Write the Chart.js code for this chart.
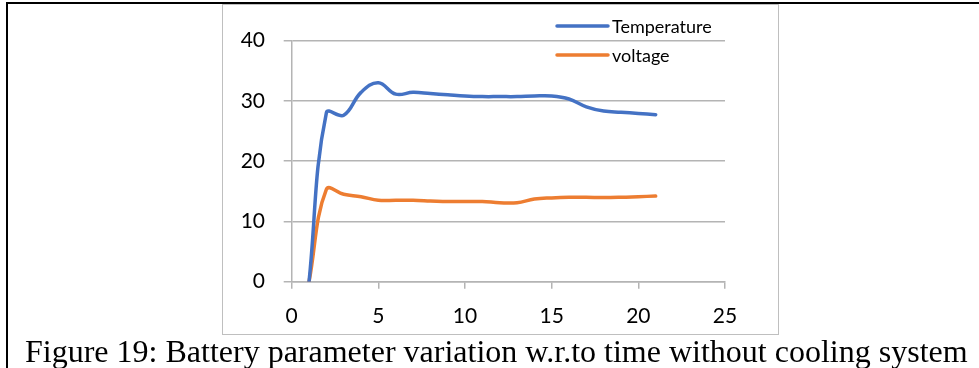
<!DOCTYPE html>
<html>
<head>
<meta charset="utf-8">
<script src="https://cdn.jsdelivr.net/npm/chart.js@4"></script>
<style>
  html, body { margin: 0; padding: 0; background: #fff; width: 979px; height: 368px; overflow: hidden; }
  #vline { position: absolute; left: 6px; top: 2px; width: 2px; height: 366px; background: #000; }
  #hline { position: absolute; left: 6px; top: 2px; width: 973px; height: 2px; background: #000; }
  #box { position: absolute; left: 222px; top: 4px; width: 557px; height: 331px; border: 1px solid #bfbfbf; box-sizing: border-box; background: #fff; }
  #caption { position: absolute; left: 25px; top: 335px; font-family: "Liberation Serif", "Times New Roman", serif; font-size: 32px; line-height: 32px; color: #000; white-space: nowrap; }
</style>
</head>
<body>
<div id="vline"></div>
<div id="hline"></div>
<div id="box"><canvas id="c" width="555" height="329"></canvas></div>
<div id="caption">Figure 19: Battery parameter variation w.r.to time without cooling system</div>
<script>
// ---- data ----
const times = [1, 2, 3, 4, 5, 6, 7, 8, 9, 10, 11, 12, 13, 14, 15, 16, 17, 18, 19, 20, 21];
const temperature = [0, 28.0, 27.6, 31.4, 33.0, 31.1, 31.4, 31.2, 31.0, 30.8, 30.7, 30.7, 30.7, 30.8, 30.8, 30.3, 29.0, 28.3, 28.1, 27.9, 27.7];
const voltage = [0, 15.3, 14.5, 14.1, 13.5, 13.5, 13.5, 13.4, 13.3, 13.3, 13.3, 13.1, 13.1, 13.7, 13.9, 14.0, 14.0, 13.95, 14.0, 14.1, 14.2];
const seriesNames = ["Temperature", "voltage"];
const xTicks = [0, 5, 10, 15, 20, 25];
const yTicks = [0, 10, 20, 30, 40];

const GRID = '#b4b4b4';
const COLORS = ['#4472C4', '#ED7D31'];

const legendPlugin = {
  id: 'sideLegend',
  afterDraw(chart) {
    const ctx = chart.ctx;
    const x0 = 334, x1 = 385, tx = 389;
    const ys = [21, 50];
    ctx.save();
    ctx.font = '18px Lato';
    ctx.textBaseline = 'middle';
    ctx.textAlign = 'left';
    chart.data.datasets.forEach((ds, i) => {
      ctx.strokeStyle = ds.borderColor;
      ctx.lineWidth = 3.5;
      ctx.lineCap = 'round';
      ctx.beginPath();
      ctx.moveTo(x0, ys[i]);
      ctx.lineTo(x1, ys[i]);
      ctx.stroke();
      ctx.fillStyle = '#000';
      ctx.fillText(ds.label, tx, ys[i] + 1);
    });
    ctx.restore();
  }
};

const mk = (arr) => times.map((t, i) => ({ x: t, y: arr[i] }));

new Chart(document.getElementById('c'), {
  type: 'line',
  data: {
    datasets: [
      { label: seriesNames[0], data: mk(temperature), borderColor: COLORS[0], backgroundColor: COLORS[0], borderWidth: 3.5, tension: 0.4, pointRadius: 0, borderCapStyle: 'round', fill: false },
      { label: seriesNames[1], data: mk(voltage), borderColor: COLORS[1], backgroundColor: COLORS[1], borderWidth: 3.5, tension: 0.4, pointRadius: 0, borderCapStyle: 'round', fill: false }
    ]
  },
  options: {
    responsive: false,
    animation: false,
    layout: { padding: { left: 0, top: 35.5, right: 53, bottom: 0 } },
    plugins: { legend: { display: false }, tooltip: { enabled: false } },
    scales: {
      x: {
        type: 'linear', min: xTicks[0], max: xTicks[xTicks.length - 1],
        afterBuildTicks: (s) => { s.ticks = xTicks.map(v => ({ value: v })); },
        afterFit: (s) => { s.height = 52.3; },
        ticks: { font: { family: 'Lato', size: 21 }, color: '#000', padding: 14.5, maxRotation: 0 },
        grid: { drawOnChartArea: false, drawTicks: true, tickLength: 7, color: GRID, lineWidth: 1.5 },
        border: { display: true, color: GRID, width: 1.5 }
      },
      y: {
        min: yTicks[0], max: yTicks[yTicks.length - 1],
        afterBuildTicks: (s) => { s.ticks = yTicks.map(v => ({ value: v })); },
        afterFit: (s) => { s.width = 68.7; },
        ticks: { font: { family: 'Lato', size: 21 }, color: '#000', padding: 18.7 },
        grid: { drawTicks: true, tickLength: 8, color: GRID, lineWidth: 1.5 },
        border: { display: true, color: GRID, width: 1.5 }
      }
    }
  },
  plugins: [legendPlugin]
});
</script>
</body>
</html>
